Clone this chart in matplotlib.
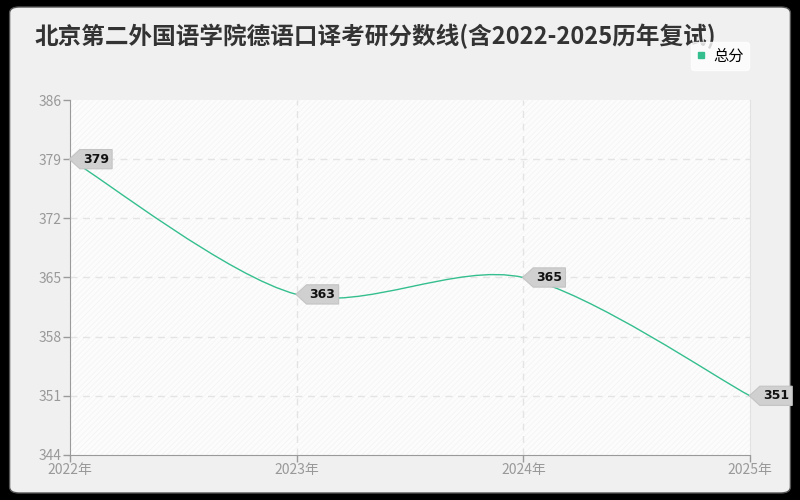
import numpy as np
import matplotlib
matplotlib.use("Agg")
import matplotlib.pyplot as plt
from matplotlib.path import Path
from matplotlib.patches import PathPatch, FancyBboxPatch, Rectangle
from matplotlib.lines import Line2D

plt.rcParams['font.family'] = ['Noto Sans CJK SC', 'DejaVu Sans']
plt.rcParams['hatch.linewidth'] = 0.5

# data
years = ['2022年', '2023年', '2024年', '2025年']
scores = [379, 363, 365, 351]
y_ticks = [344, 351, 358, 365, 372, 379, 386]
title = '北京第二外国语学院德语口译考研分数线(含2022-2025历年复试)'
series_name = '总分'

line_color = '#35bf8e'


def smooth_path(xs, ys, k=0.15):
    # catmull-rom style bezier through the points
    pts = np.column_stack([xs, ys]).astype(float)
    n = len(pts)
    verts = [pts[0]]
    codes = [Path.MOVETO]
    for i in range(n - 1):
        p_prev = pts[max(i - 1, 0)]
        p0 = pts[i]
        p1 = pts[i + 1]
        p_next = pts[min(i + 2, n - 1)]
        c1 = p0 + (p1 - p_prev) * k
        c2 = p1 - (p_next - p0) * k
        verts += [c1, c2, p1]
        codes += [Path.CURVE4] * 3
    return Path(verts, codes)


def tag_box(x0, y0, width, height, mutation_size):
    pad = 0.25 * mutation_size
    arrow = (height + 2 * pad) * 0.55
    left, right = x0 - pad, x0 + width + pad
    bottom, top = y0 - pad, y0 + height + pad
    mid = (bottom + top) / 2
    return Path([(left - arrow, mid), (left, bottom), (right, bottom),
                 (right, top), (left, top), (left - arrow, mid)],
                [Path.MOVETO, Path.LINETO, Path.LINETO, Path.LINETO,
                 Path.LINETO, Path.CLOSEPOLY])


fig = plt.figure(figsize=(8, 5), dpi=100)
fig.patch.set_facecolor('black')
fig.patches.append(FancyBboxPatch((0.012, 0.014), 0.976, 0.972,
                                  boxstyle='round,pad=0,rounding_size=0.012',
                                  transform=fig.transFigure, facecolor='#f0f0f0',
                                  edgecolor='#555555', linewidth=1.0, zorder=-10))

ax = fig.add_axes([0.0875, 0.09, 0.85, 0.71])
ax.set_zorder(1)
ax.set_facecolor('white')
ax.add_patch(Rectangle((0, 0), 1, 1, transform=ax.transAxes, facecolor='#fcfcfc',
                       edgecolor='#f3f3f3', hatch='//////', linewidth=0, zorder=0))

x = np.arange(len(years))
ax.add_patch(PathPatch(smooth_path(x, scores), facecolor='none',
                       edgecolor=line_color, linewidth=1.0, zorder=3))

ax.set_xlim(0, len(years) - 1)
ax.set_ylim(y_ticks[0], y_ticks[-1])
ax.set_xticks(x)
ax.set_xticklabels(years)
ax.set_yticks(y_ticks)

for yv in y_ticks[1:-1]:
    ax.axhline(yv, color='#e4e4e4', linestyle=(0, (5, 4)), linewidth=1, zorder=1)
for xv in x[1:-1]:
    ax.axvline(xv, color='#e4e4e4', linestyle=(0, (5, 4)), linewidth=1, zorder=1)

ax.spines['top'].set_visible(False)
ax.spines['right'].set_color('#e2e2e2')
ax.spines['left'].set_color('#9a9a9a')
ax.spines['bottom'].set_color('#9a9a9a')
ax.tick_params(axis='both', colors='#9a9a9a', labelcolor='#999999',
               labelsize=10, length=5, width=1)
ax.tick_params(axis='x', pad=1)
ax.tick_params(axis='y', pad=1)

for xi, v in zip(x, scores):
    ax.annotate(str(v), xy=(xi, v), xytext=(13, 0), textcoords='offset pixels',
                ha='left', va='center', fontsize=9, fontweight='bold',
                family='DejaVu Sans', color='#111111', zorder=5,
                annotation_clip=False,
                bbox=dict(boxstyle=tag_box, facecolor='#d0d0d0',
                          edgecolor='#c4c4c4', linewidth=0.8))

fig.text(35 / 800, 1 - 36 / 500, title, ha='left', va='center', fontsize=17,
         fontweight='bold', color='#333333')

handle = Line2D([], [], marker='s', color=line_color, linestyle='none', markersize=4)
leg = fig.legend([handle], [series_name], loc='center',
                 bbox_to_anchor=(720 / 800, 1 - 56 / 500), frameon=True,
                 fancybox=True, handlelength=0.6, handletextpad=0.5,
                 borderpad=0.35, fontsize=11)
leg.get_frame().set_facecolor('white')
leg.get_frame().set_edgecolor('white')

fig.savefig('out.png', dpi=100, facecolor=fig.get_facecolor())
